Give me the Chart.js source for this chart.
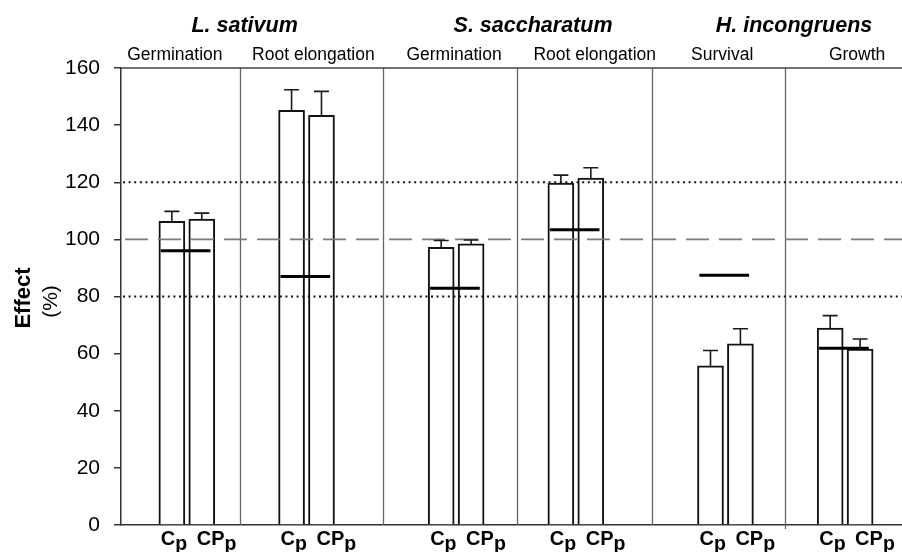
<!DOCTYPE html>
<html>
<head>
<meta charset="utf-8">
<script src="https://cdn.jsdelivr.net/npm/chart.js@4.4.1/dist/chart.umd.min.js"></script>
<style>
html,body{margin:0;padding:0;background:#fff;}
#wrap{width:902px;height:552px;}
</style>
</head>
<body>
<div id="wrap"><canvas id="c" width="902" height="552"></canvas></div>
<script>
// ---- data ----
const species = ['L. sativum', 'S. saccharatum', 'H. incongruens'];
const categories = ['Germination', 'Root elongation', 'Germination', 'Root elongation', 'Survival', 'Growth'];
const cpValues  = [106.3, 145.2, 97.2, 119.7, 55.7, 68.9];
const cpErrTop  = [109.8, 152.4, 99.6, 122.5, 61.1, 73.3];
const cppValues = [107.1, 143.4, 98.4, 121.5, 63.4, 61.6];
const cppErrTop = [109.2, 151.8, 99.8, 125.1, 68.7, 65.1];
const meanValues = [96.0, 87.0, 82.9, 103.4, 87.4, 61.9];
const cpX = [2, 6, 11, 15, 20, 24];          // x position of the Cp bar in each panel
const dividerX = [4.28, 9.06, 13.55, 18.05, 22.49];
const speciesX = [4.43, 14.07, 22.79];
const categoryX = [2.1, 6.73, 11.43, 16.13, 20.39, 24.9];
const yTicks = [0, 20, 40, 60, 80, 100, 120, 140, 160];
const dashedRef = [100];
const dottedRef = [80, 120];

const FONT = "'Liberation Sans', Arial, sans-serif";

// ---- build datasets ----
const barData = [];
const errData = [];
cpX.forEach((x, i) => {
  barData.push({x: x, y: cpValues[i]});
  errData.push({x: x, top: cpErrTop[i], base: cpValues[i]});
  barData.push({x: x + 1, y: cppValues[i]});
  errData.push({x: x + 1, top: cppErrTop[i], base: cppValues[i]});
});
const meanData = [];
cpX.forEach((x, i) => {
  meanData.push({x: x - 0.37, y: meanValues[i]});
  meanData.push({x: x + 1.29, y: meanValues[i]});
  meanData.push({x: x + 2, y: null});
});

const overlay = {
  id: 'overlay',
  afterDatasetsDraw(chart) {
    const {ctx, chartArea: a, scales: {x, y}} = chart;
    ctx.save();
    // dividers
    ctx.strokeStyle = '#666'; ctx.lineWidth = 1.3; ctx.setLineDash([]);
    dividerX.forEach((d, i) => {
      const px = Math.round(x.getPixelForValue(d)) + 0.5;
      const ext = i === dividerX.length - 1 ? 4 : 0;
      ctx.beginPath(); ctx.moveTo(px, a.top); ctx.lineTo(px, a.bottom + ext); ctx.stroke();
    });
    // top frame line
    ctx.strokeStyle = '#444'; ctx.lineWidth = 1.5;
    ctx.beginPath(); ctx.moveTo(a.left, a.top); ctx.lineTo(a.right, a.top); ctx.stroke();
    // dashed reference
    ctx.strokeStyle = '#7a7a7a'; ctx.lineWidth = 1.6; ctx.setLineDash([23, 10]);
    dashedRef.forEach(v => {
      const py = y.getPixelForValue(v);
      ctx.beginPath(); ctx.moveTo(a.left + 4, py); ctx.lineTo(a.right, py); ctx.stroke();
    });
    // dotted references
    ctx.strokeStyle = '#111'; ctx.lineWidth = 2; ctx.setLineDash([2, 3.6]);
    dottedRef.forEach(v => {
      const py = y.getPixelForValue(v);
      ctx.beginPath(); ctx.moveTo(a.left + 2, py); ctx.lineTo(a.right, py); ctx.stroke();
    });
    // error bars
    ctx.setLineDash([]); ctx.strokeStyle = '#1a1a1a'; ctx.lineWidth = 1.6;
    errData.forEach(e => {
      const px = x.getPixelForValue(e.x);
      const pt = y.getPixelForValue(e.top);
      const pb = y.getPixelForValue(e.base);
      ctx.beginPath();
      ctx.moveTo(px, pb); ctx.lineTo(px, pt);
      ctx.moveTo(px - 7.5, pt); ctx.lineTo(px + 7.5, pt);
      ctx.stroke();
    });
    ctx.restore();
  },
  afterDraw(chart) {
    const {ctx, scales: {x, y}, chartArea: a} = chart;
    ctx.save();
    ctx.fillStyle = '#000';
    ctx.textAlign = 'center'; ctx.textBaseline = 'alphabetic';
    ctx.font = 'italic bold 21.5px ' + FONT;
    species.forEach((s, i) => ctx.fillText(s, x.getPixelForValue(speciesX[i]), 32));
    ctx.font = '17.5px ' + FONT;
    categories.forEach((c, i) => ctx.fillText(c, x.getPixelForValue(categoryX[i]), 60));
    // x labels with subscripts
    ctx.textAlign = 'left';
    const mainF = 'bold 20px ' + FONT, subF = 'bold 19.5px ' + FONT;
    const drawLabel = (px, main) => {
      ctx.font = mainF; ctx.fillText(main, px, 545);
      const w = ctx.measureText(main).width;
      ctx.font = subF; ctx.fillText('p', px + w, 550);
    };
    cpX.forEach(cx => {
      drawLabel(x.getPixelForValue(cx) - 11, 'C');
      drawLabel(x.getPixelForValue(cx + 1) - 5, 'CP');
    });
    // y title
    ctx.save();
    ctx.translate(30, 298); ctx.rotate(-Math.PI / 2);
    ctx.textAlign = 'center'; ctx.font = 'bold 22px ' + FONT;
    ctx.fillText('Effect', 0, 0);
    ctx.restore();
    ctx.save();
    ctx.translate(57, 301.5); ctx.rotate(-Math.PI / 2);
    ctx.textAlign = 'center'; ctx.font = '21px ' + FONT;
    ctx.fillText('(%)', 0, 0);
    ctx.restore();
    ctx.restore();
  }
};

new Chart(document.getElementById('c'), {
  type: 'bar',
  data: {
    datasets: [
      {
        type: 'bar',
        data: barData,
        backgroundColor: '#ffffff',
        borderColor: '#111',
        borderWidth: 2,
        borderSkipped: 'start',
        barThickness: 26,
        order: 2
      },
      {
        type: 'line',
        data: meanData,
        borderColor: '#000',
        borderWidth: 3,
        pointRadius: 0,
        spanGaps: false,
        fill: false,
        order: 1
      }
    ]
  },
  options: {
    responsive: false,
    animation: false,
    events: [],
    layout: {padding: {top: 68, left: 0, right: 0, bottom: 0}},
    plugins: {legend: {display: false}, tooltip: {enabled: false}, title: {display: false}},
    scales: {
      x: {
        type: 'linear',
        min: 0.3,
        max: 26.4,
        offset: false,
        grid: {display: false, offset: false},
        ticks: {display: false},
        border: {display: true, color: '#333', width: 1.5},
        afterFit(s) { s.height = 27; }
      },
      y: {
        type: 'linear',
        min: 0,
        max: 160,
        afterBuildTicks(s) { s.ticks = yTicks.map(v => ({value: v})); },
        ticks: {
          color: '#000',
          font: {family: FONT, size: 21},
          padding: 14
        },
        grid: {drawOnChartArea: false, drawTicks: true, tickLength: 7, color: '#333', lineWidth: 1.5},
        border: {display: true, color: '#333', width: 1.5},
        afterFit(s) { s.width = 121; }
      }
    }
  },
  plugins: [overlay]
});
</script>
</body>
</html>
